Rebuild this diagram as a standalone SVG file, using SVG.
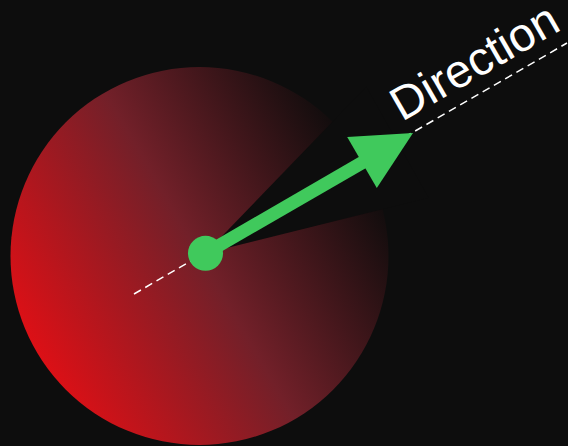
<svg xmlns="http://www.w3.org/2000/svg" width="568" height="446" viewBox="0 0 568 446">
<defs>
<linearGradient id="fade" gradientUnits="userSpaceOnUse" x1="36" y1="351" x2="364" y2="161">
<stop offset="0" stop-color="#dc1016"/>
<stop offset="0.5" stop-color="#722029"/>
<stop offset="1" stop-color="#0e0c0c"/>
</linearGradient>
</defs>
<style>
.bg{fill:#0d0d0d}
.guide{stroke:#ffffff;stroke-width:1.5;stroke-dasharray:8 5;fill:none}
.green{fill:#40c95c}
.shaft{stroke:#40c95c;stroke-width:13;fill:none}
.label{font-family:"Liberation Sans",Arial,sans-serif;font-size:47px;fill:#ffffff}
</style>
<rect class="bg" x="0" y="0" width="568" height="446"/>
<g id="circle">
<circle cx="199.5" cy="256" r="189" fill="url(#fade)"/>
</g>
<g id="wedge">
<path class="bg" d="M205.5,253.3 L428.6,197.7 L366.3,86.7 Z"/>
</g>
<g id="connectors">
<line class="guide" x1="134" y1="294" x2="567" y2="43"/>
<line class="shaft" x1="205.5" y1="253.3" x2="365" y2="161"/>
<polygon class="green" points="413,133 347.2,137.1 376.8,188.1"/>
</g>
<g id="origin">
<circle class="green" cx="205.5" cy="253.3" r="17.5"/>
</g>
<g id="label">
<text class="label" x="0" y="0" transform="translate(402,122) rotate(-30)">Direction</text>
</g>
</svg>
